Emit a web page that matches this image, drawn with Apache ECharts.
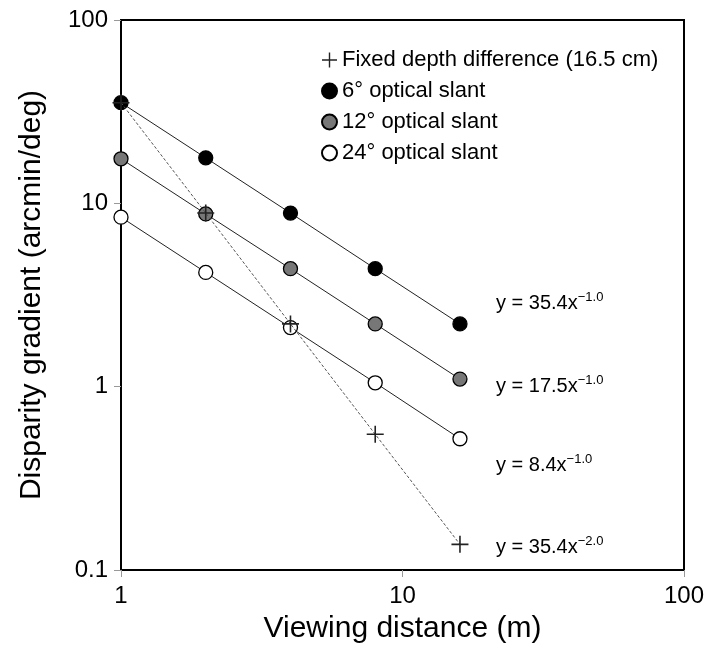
<!DOCTYPE html>
<html>
<head>
<meta charset="utf-8">
<script src="https://cdn.jsdelivr.net/npm/echarts@6/dist/echarts.min.js"></script>
<style>
html,body{margin:0;padding:0;background:#fff;}
#main{width:722px;height:652px;}
</style>
</head>
<body>
<div id="main"></div>
<script>
// Data
const distances = [1, 2, 4, 8, 16];
const fixedDepth = [35.4, 8.85, 2.2, 0.55, 0.138];
const slant6 = [35.4, 17.7, 8.85, 4.4, 2.2];
const slant12 = [17.5, 8.75, 4.4, 2.2, 1.1];
const slant24 = [8.4, 4.2, 2.1, 1.05, 0.52];
const seriesNames = ['Fixed depth difference (16.5 cm)', '6° optical slant', '12° optical slant', '24° optical slant'];
const equations = [
  ['y = 35.4x', '−1.0'],
  ['y = 17.5x', '−1.0'],
  ['y = 8.4x', '−1.0'],
  ['y = 35.4x', '−2.0']
];
const xTitle = 'Viewing distance (m)';
const yTitle = 'Disparity gradient (arcmin/deg)';

const FONT = '"Liberation Sans", Arial, Helvetica, sans-serif';
const PLUS = 'path://M6.8,0H8.2V6.8H15V8.2H8.2V15H6.8V8.2H0V6.8H6.8Z';

function pairs(ys) { return distances.map((x, i) => [x, ys[i]]); }

const chart = echarts.init(document.getElementById('main'), null, {renderer: 'canvas'});

const circleSeries = (name, ys, fill) => ({
  name: name,
  type: 'line',
  data: pairs(ys),
  symbol: 'circle',
  symbolSize: 14,
  showSymbol: true,
  lineStyle: {color: '#222', width: 1},
  itemStyle: {color: fill, borderColor: '#000', borderWidth: 1.3},
  z: 3
});

const eqTops = [291, 374, 453, 535];

chart.setOption({
  animation: false,
  backgroundColor: '#fff',
  textStyle: {fontFamily: FONT},
  grid: {left: 121, right: 38, top: 20, bottom: 82, show: true, borderColor: '#000', borderWidth: 2, containLabel: false},
  xAxis: {
    type: 'log', logBase: 10, min: 1, max: 100,
    name: xTitle, nameLocation: 'middle', nameGap: 44,
    nameTextStyle: {fontSize: 30, color: '#000', fontFamily: FONT},
    axisLine: {lineStyle: {color: '#000', width: 2}},
    axisTick: {show: true, length: 7, lineStyle: {color: '#999', width: 1}},
    axisLabel: {fontSize: 24, color: '#000', margin: 14, fontFamily: FONT},
    splitLine: {show: false},
    minorTick: {show: false}
  },
  yAxis: {
    type: 'log', logBase: 10, min: 0.1, max: 100,
    name: yTitle, nameLocation: 'middle', nameGap: 74, nameRotate: 90,
    nameTextStyle: {fontSize: 30, color: '#000', fontFamily: FONT},
    axisLine: {lineStyle: {color: '#000', width: 2}},
    axisTick: {show: true, length: 7, lineStyle: {color: '#999', width: 1}},
    axisLabel: {fontSize: 24, color: '#000', margin: 13, fontFamily: FONT,
      formatter: v => String(+v.toPrecision(3))},
    splitLine: {show: false},
    minorTick: {show: false}
  },
  legend: {
    orient: 'vertical', left: 316, top: 44,
    itemWidth: 15, itemHeight: 15, itemGap: 9,
    textStyle: {fontSize: 22, color: '#000', fontFamily: FONT},
    selectedMode: false,
    data: [
      {name: seriesNames[0], icon: PLUS, itemStyle: {color: '#222', borderWidth: 0}},
      {name: seriesNames[1], icon: 'circle'},
      {name: seriesNames[2], icon: 'circle'},
      {name: seriesNames[3], icon: 'circle'}
    ]
  },
  series: [
    {
      name: seriesNames[0],
      type: 'line',
      data: pairs(fixedDepth),
      symbol: PLUS,
      symbolSize: 17,
      showSymbol: true,
      lineStyle: {color: '#555', width: 1, type: [3, 2]},
      itemStyle: {color: '#222', borderWidth: 0},
      z: 5
    },
    circleSeries(seriesNames[1], slant6, '#000'),
    circleSeries(seriesNames[2], slant12, '#777'),
    circleSeries(seriesNames[3], slant24, '#fff')
  ],
  graphic: equations.map((eq, i) => ({
    type: 'text',
    left: 496,
    top: eqTops[i],
    z: 10,
    style: {
      text: eq[0] + '{sup|' + eq[1] + '}',
      fill: '#000',
      font: '20px ' + FONT,
      lineHeight: 24,
      rich: {
        sup: {fontSize: 13, lineHeight: 13, verticalAlign: 'top', fontFamily: FONT, fill: '#000'}
      }
    }
  }))
});
</script>
</body>
</html>
